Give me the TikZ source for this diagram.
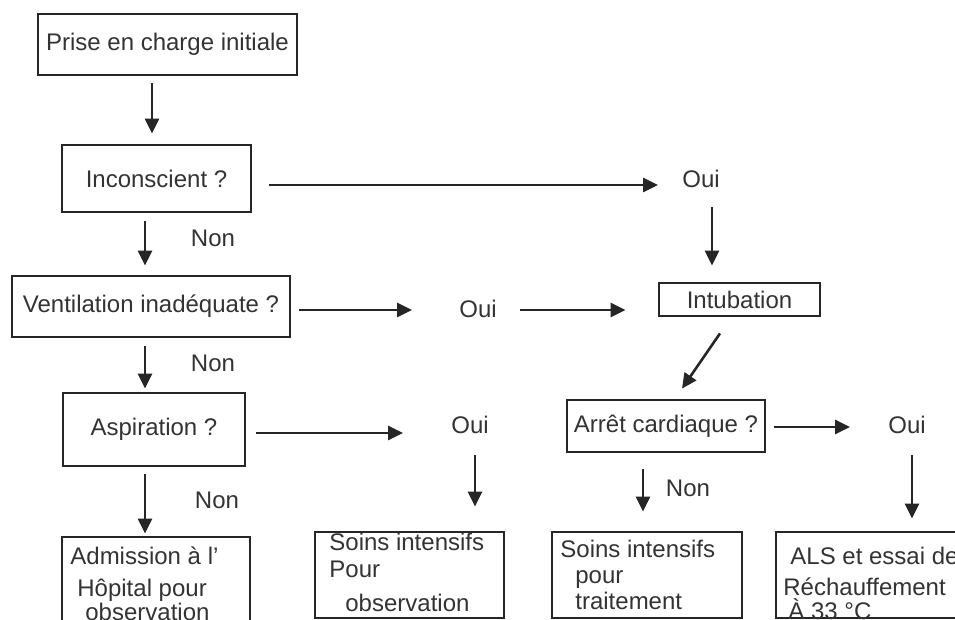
\documentclass[tikz,border=0pt]{standalone}
\usepackage{fontspec}
\setmainfont{Liberation Sans}
\usepackage{tikz}
\usetikzlibrary{arrows.meta,positioning}

\begin{document}
\begin{tikzpicture}[
  x=0.5pt, y=-0.5pt,
  font=\fontsize{12}{14}\selectfont,
  box/.style={draw=black!85, line width=1.4pt, inner sep=0pt, text=black!80},
  lab/.style={inner sep=1pt, text=black!80},
  txt/.style={inner sep=0pt, anchor=base west, text=black!80},
  arr/.style={-{Triangle[length=7.5pt,width=7pt]}, line width=1.3pt, draw=black!85}]

\useasboundingbox (0,0) rectangle (955,620);

% Left column
\node[box, minimum width=129.5pt, minimum height=30.5pt] (init) at (167.5,44.5) {Prise en charge initiale};
\node[box, minimum width=94.5pt, minimum height=33.5pt] (incons) at (156.5,178.5) {Inconscient ?};
\node[box, minimum width=139pt, minimum height=30.5pt] (venti) at (151,306.5) {Ventilation inadéquate ?};
\node[box, minimum width=91pt, minimum height=36.5pt] (aspi) at (154,429.5) {Aspiration ?};
\node[box, minimum width=94pt, minimum height=42pt] (admis) at (156,579) {};
\node[txt] (admis-a) at (70,565) {Admission à l'};
\node[txt] (admis-b) at (77,597) {Hôpital pour};
\node[txt] (admis-c) at (85,621) {observation};

% Labels
\node[lab] (non1) at (213,238) {Non};
\node[lab] (non2) at (213,363) {Non};
\node[lab] (non3) at (217,500) {Non};
\node[lab] (oui1) at (701,179) {Oui};
\node[lab] (oui2) at (478,309) {Oui};
\node[lab] (oui3) at (470,425) {Oui};

% Right part
\node[box, minimum width=80.5pt, minimum height=16.5pt] (intub) at (739.5,299.5) {Intubation};
\node[box, minimum width=99pt, minimum height=26pt] (arret) at (666,426) {Arrêt cardiaque ?};
\node[lab] (oui4) at (907,425) {Oui};
\node[lab] (non4) at (688,488) {Non};

% Bottom row
\node[box, minimum width=94.5pt, minimum height=43pt] (soinsobs) at (409.5,575) {};
\node[txt] (soinsobs-a) at (329,551) {Soins intensifs};
\node[txt] (soinsobs-b) at (329,578) {Pour};
\node[txt] (soinsobs-c) at (345,612) {observation};
\node[box, minimum width=95pt, minimum height=43pt] (soinstrait) at (647,575) {};
\node[txt] (soinstrait-a) at (560,558) {Soins intensifs};
\node[txt] (soinstrait-b) at (575,584) {pour};
\node[txt] (soinstrait-c) at (575,610) {traitement};
\node[box, minimum width=112pt, minimum height=43pt] (als) at (888,575) {};
\node[txt] (als-a) at (790,565) {ALS et essai de};
\node[txt] (als-b) at (783,596) {Réchauffement};
\node[txt] (als-c) at (788,620) {À 33 °C};

% Arrows
\draw[arr] ([shift={(-15.5,7)}]init.south) -- ([shift={(-4.5,-10)}]incons.north);
\draw[arr] ([shift={(17,6.5)}]incons.east) -- ([shift={(-43,6)}]oui1.center);
\draw[arr] ([shift={(11,28)}]oui1.center) -- ([shift={(-27.5,-16)}]intub.north);
\draw[arr] ([shift={(-11.5,8)}]incons.south) -- ([shift={(-6,-9)}]venti.north);
\draw[arr] ([shift={(8,3.5)}]venti.east) -- ([shift={(-66,1)}]oui2.center);
\draw[arr] ([shift={(42,1)}]oui2.center) -- ([shift={(-32,10.5)}]intub.west);
\draw[arr] ([shift={(-6,8)}]venti.south) -- ([shift={(-9,-3)}]aspi.north);
\draw[arr] ([shift={(-19.5,16)}]intub.south) -- ([shift={(16,-10)}]arret.north);
\draw[arr] ([shift={(10,3.5)}]aspi.east) -- ([shift={(-67,8)}]oui3.center);
\draw[arr] ([shift={(5,30)}]oui3.center) -- ([shift={(65.5,-24)}]soinsobs.north);
\draw[arr] ([shift={(-9,7)}]aspi.south) -- ([shift={(-11,-2)}]admis.north);
\draw[arr] ([shift={(8,1)}]arret.east) -- ([shift={(-57,2)}]oui4.center);
\draw[arr] ([shift={(5,30)}]oui4.center) -- ([shift={(24,-12)}]als.north);
\draw[arr] ([shift={(-23,16)}]arret.south) -- ([shift={(-4,-19)}]soinstrait.north);
\end{tikzpicture}
\end{document}
